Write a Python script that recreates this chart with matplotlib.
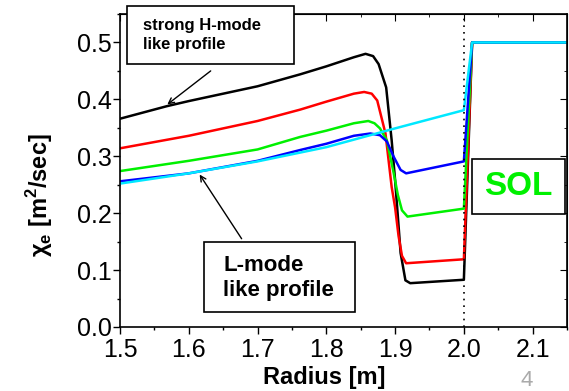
import numpy as np
import matplotlib.pyplot as plt
from matplotlib.patches import Rectangle
from matplotlib.ticker import MultipleLocator

plt.rcParams['font.family'] = ['Liberation Sans', 'DejaVu Sans']
plt.rcParams['mathtext.fontset'] = 'custom'
plt.rcParams['mathtext.rm'] = 'Liberation Sans'
plt.rcParams['mathtext.bf'] = 'Liberation Sans:bold'

# Profiles of electron heat diffusivity
r_black = [1.5, 1.568, 1.6, 1.7, 1.762, 1.8, 1.84, 1.857, 1.868, 1.876, 1.887, 1.895, 1.900, 1.908, 1.915, 1.922, 2.0, 2.012, 2.15]
chi_black = [0.366, 0.388, 0.397, 0.423, 0.444, 0.458, 0.474, 0.480, 0.476, 0.462, 0.421, 0.328, 0.258, 0.130, 0.082, 0.077, 0.083, 0.5, 0.5]

r_red = [1.5, 1.6, 1.7, 1.762, 1.8, 1.84, 1.855, 1.866, 1.874, 1.886, 1.895, 1.900, 1.905, 1.910, 1.916, 2.0, 2.012, 2.15]
chi_red = [0.314, 0.336, 0.362, 0.382, 0.396, 0.410, 0.413, 0.410, 0.398, 0.340, 0.246, 0.210, 0.160, 0.125, 0.112, 0.119, 0.5, 0.5]

r_green = [1.5, 1.6, 1.7, 1.762, 1.8, 1.84, 1.861, 1.870, 1.878, 1.888, 1.898, 1.904, 1.910, 1.918, 2.0, 2.012, 2.15]
chi_green = [0.274, 0.292, 0.312, 0.334, 0.345, 0.358, 0.362, 0.358, 0.349, 0.328, 0.270, 0.232, 0.205, 0.194, 0.208, 0.5, 0.5]

r_blue = [1.5, 1.6, 1.7, 1.762, 1.8, 1.84, 1.864, 1.878, 1.888, 1.898, 1.908, 1.916, 2.0, 2.012, 2.15]
chi_blue = [0.256, 0.270, 0.292, 0.311, 0.322, 0.336, 0.340, 0.337, 0.326, 0.299, 0.276, 0.270, 0.291, 0.5, 0.5]

r_cyan = [1.5, 1.6, 1.7, 1.8, 1.9, 2.0, 2.012, 2.15]
chi_cyan = [0.252, 0.270, 0.291, 0.316, 0.349, 0.381, 0.5, 0.5]

separatrix = 2.0

fig = plt.figure(figsize=(5.69, 3.91), dpi=100)
ax = fig.add_axes([0.211, 0.1637, 0.7855, 0.8005])

lw = 1.8
ax.plot(r_black, chi_black, color='black', lw=lw)
ax.plot(r_red, chi_red, color='#ff0000', lw=lw)
ax.plot(r_green, chi_green, color='#00f000', lw=lw)
ax.plot(r_blue, chi_blue, color='#0000ff', lw=lw)
ax.plot(r_cyan, chi_cyan, color='#00e8ff', lw=lw)
ax.axvline(separatrix, color='black', ls=(0, (1, 3)), lw=1.2)

ax.set_xlim(1.5, 2.15)
ax.set_ylim(0.0, 0.55)
ax.xaxis.set_major_locator(MultipleLocator(0.1))
ax.xaxis.set_minor_locator(MultipleLocator(0.05))
ax.yaxis.set_major_locator(MultipleLocator(0.1))
ax.yaxis.set_minor_locator(MultipleLocator(0.05))
ax.xaxis.set_major_formatter(plt.FormatStrFormatter('%.1f'))
ax.yaxis.set_major_formatter(plt.FormatStrFormatter('%.1f'))
ax.tick_params(which='both', direction='out', labelsize=18, width=1)
ax.tick_params(which='major', length=5)
ax.tick_params(which='minor', length=2.5)
ax.tick_params(axis='y', which='major', pad=1)
ax.tick_params(axis='x', which='major', pad=3)
for side in ['left', 'right', 'top', 'bottom']:
    ax.spines[side].set_linewidth(1.2)

# inward ticks on top/right mirror axes
axt = ax.secondary_xaxis('top')
axt.xaxis.set_major_locator(MultipleLocator(0.1))
axt.xaxis.set_minor_locator(MultipleLocator(0.05))
axt.tick_params(which='both', direction='in', labeltop=False)
axt.tick_params(which='major', length=5)
axt.tick_params(which='minor', length=2.5)
axr = ax.secondary_yaxis('right')
axr.yaxis.set_major_locator(MultipleLocator(0.1))
axr.yaxis.set_minor_locator(MultipleLocator(0.05))
axr.tick_params(which='both', direction='in', labelright=False)
axr.tick_params(which='major', length=5)
axr.tick_params(which='minor', length=2.5)

ax.set_xlabel('Radius [m]', fontsize=17, fontweight='bold')
ax.set_ylabel(r'$\mathbf{\chi_e}$ [m$^\mathbf{2}$/sec]', fontsize=17, fontweight='bold')
ax.xaxis.set_label_coords(0.4575, -0.125)
ax.yaxis.set_label_coords(-0.145, 0.42)

# annotation boxes (axes fraction)
def draw_box(x0, y0, x1, y1):
    ax.add_patch(Rectangle((x0, y0), x1 - x0, y1 - y0, transform=ax.transAxes,
                           fc='white', ec='black', lw=1.2, clip_on=False, zorder=5))

draw_box(0.0157, 0.840, 0.389, 1.0256)
ax.text(0.0515, 0.934, 'strong H-mode\nlike profile', transform=ax.transAxes, fontsize=12,
        fontweight='bold', ha='left', va='center', linespacing=1.35, zorder=6)
ax.annotate('', xy=(1.5655, 0.388), xytext=(1.635, 0.453),
            arrowprops=dict(arrowstyle='->', color='black', lw=1))

draw_box(0.188, 0.048, 0.526, 0.2706)
ax.text(0.2304, 0.158, 'L-mode\nlike profile', transform=ax.transAxes, fontsize=16,
        fontweight='bold', ha='left', va='center', linespacing=1.25, zorder=6)
ax.annotate('', xy=(1.6135, 0.272), xytext=(1.679, 0.151),
            arrowprops=dict(arrowstyle='->', color='black', lw=1))

draw_box(0.787, 0.361, 0.996, 0.536)
ax.text(0.891, 0.448, 'SOL', transform=ax.transAxes, fontsize=24, fontweight='bold',
        color='#00f000', ha='center', va='center', zorder=6)

fig.text(527 / 569, 1 - 380 / 391, '4', color='#aaaaaa', fontsize=16, ha='center', va='center')

fig.savefig('out.png', dpi=100)
